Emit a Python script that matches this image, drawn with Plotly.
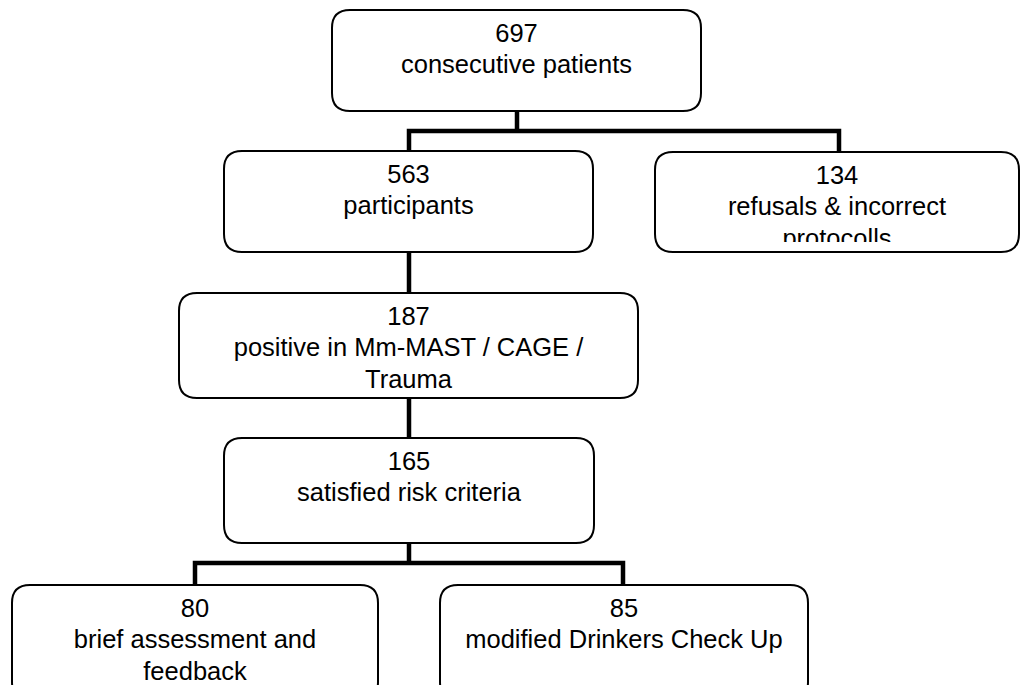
import plotly.graph_objects as go

# ---- data ----
counts = [697, 563, 134, 187, 165, 80, 85]
descriptions = [
    ["consecutive patients"],
    ["participants"],
    ["refusals & incorrect", "protocolls"],
    ["positive in Mm-MAST / CAGE /", "Trauma"],
    ["satisfied risk criteria"],
    ["brief assessment and", "feedback"],
    ["modified Drinkers Check Up"],
]

# ---- layout geometry (pixel space: x0, y0, x1, y1) ----
boxes = [
    (332, 10, 701, 111),
    (224, 151, 593, 252),
    (655, 152, 1019, 252),
    (179, 293, 638, 398),
    (224, 438, 594, 543),
    (12, 585, 378, 700),
    (440, 585, 808, 700),
]
connectors = [
    "M517,111 V131",
    "M409,151 V131 H839 V152",
    "M409,252 V293",
    "M409,398 V438",
    "M409,543 V563",
    "M195,585 V563 H623 V585",
]
RADIUS = 18
FONT_SIZE = 25.5
LINE_H = 31.5
FIRST_BASELINE = 34.5
W, H = 1020, 685


def rrect(x0, y0, x1, y1, r):
    return (f"M{x0+r},{y0} H{x1-r} Q{x1},{y0} {x1},{y0+r} V{y1-r} "
            f"Q{x1},{y1} {x1-r},{y1} H{x0+r} Q{x0},{y1} {x0},{y1-r} "
            f"V{y0+r} Q{x0},{y0} {x0+r},{y0} Z")


fig = go.Figure()

for (x0, y0, x1, y1), n, desc in zip(boxes, counts, descriptions):
    lines = [str(n)] + desc
    cx = (x0 + x1) / 2
    ys = [y0 + FIRST_BASELINE - 0.35 * FONT_SIZE + i * LINE_H for i in range(len(lines))]
    fig.add_trace(go.Scatter(
        x=[cx] * len(lines), y=ys, text=lines, mode="text",
        textposition="middle center",
        textfont=dict(family="Arial, Liberation Sans, sans-serif", size=FONT_SIZE, color="#000000"),
        hoverinfo="skip", showlegend=False,
    ))

shapes = []
# white mask: text clipped inside the "134" box, as in the original
bx0, by0, bx1, by1 = boxes[2]
shapes.append(dict(type="rect", xref="x", yref="y", x0=bx0 + 2, x1=bx1 - 2, y0=by1 - 10, y1=by1 - 1,
                   fillcolor="white", line=dict(width=0), layer="above"))
for (x0, y0, x1, y1) in boxes:
    shapes.append(dict(type="path", xref="x", yref="y", path=rrect(x0, y0, x1, y1, RADIUS),
                       line=dict(color="#000000", width=2), fillcolor="rgba(0,0,0,0)", layer="above"))
for p in connectors:
    shapes.append(dict(type="path", xref="x", yref="y", path=p,
                       line=dict(color="#000000", width=4.5), layer="above"))

fig.update_layout(
    width=W, height=H,
    margin=dict(l=0, r=0, t=0, b=0),
    paper_bgcolor="white", plot_bgcolor="white",
    xaxis=dict(range=[0, W], visible=False, fixedrange=True),
    yaxis=dict(range=[H, 0], visible=False, fixedrange=True),
    shapes=shapes,
    hovermode=False,
    showlegend=False,
)

fig.write_html(
    "out.html",
    config={"displayModeBar": False},
    post_script="document.body.style.margin='0';document.body.style.overflow='hidden';",
)
